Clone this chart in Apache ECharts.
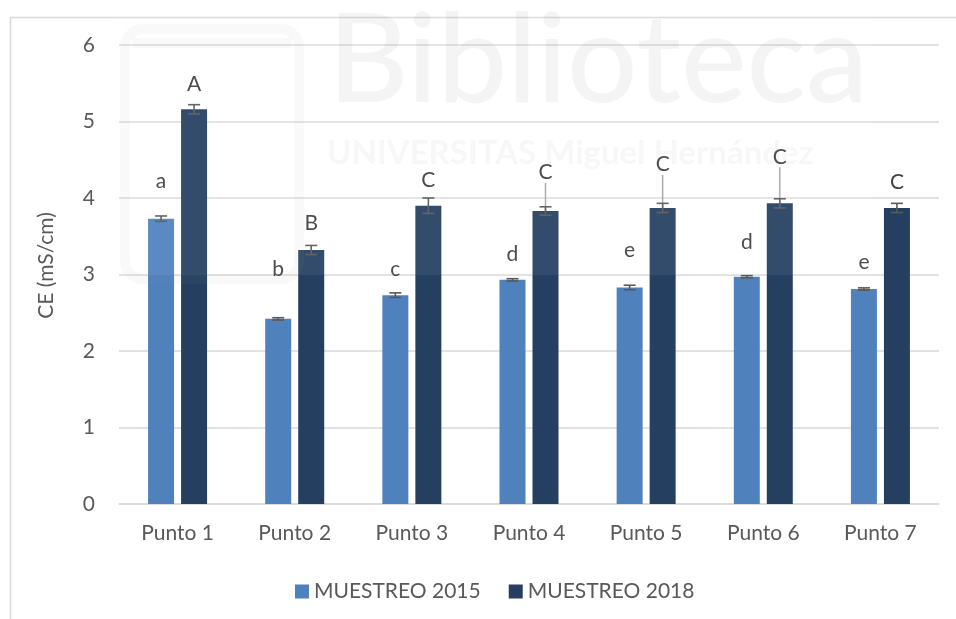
<!DOCTYPE html>
<html>
<head>
<meta charset="utf-8">
<script src="https://cdn.jsdelivr.net/npm/echarts@6/dist/echarts.min.js"></script>
<style>
  html, body { margin: 0; padding: 0; background: #fff; }
  #chart { width: 956px; height: 619px; }
</style>
</head>
<body>
<div id="chart"></div>
<script>
const categories = ['Punto 1', 'Punto 2', 'Punto 3', 'Punto 4', 'Punto 5', 'Punto 6', 'Punto 7']
const values2015 = [3.73, 2.42, 2.73, 2.93, 2.83, 2.97, 2.81]
const values2018 = [5.16, 3.32, 3.90, 3.83, 3.87, 3.93, 3.87]
const err2015 = [0.035, 0.015, 0.03, 0.015, 0.03, 0.015, 0.015]
const err2018 = [0.06, 0.06, 0.1, 0.055, 0.06, 0.06, 0.06]
const letters2015 = ['a', 'b', 'c', 'd', 'e', 'd', 'e']
const letters2018 = ['A', 'B', 'C', 'C', 'C', 'C', 'C']
const yTicks = [0, 1, 2, 3, 4, 5, 6]

// extra lift of the letter labels (px), like the moved labels in the original
const lift2015 = [12, 24, 0, 0, 12, 9, 1]
const lift2018 = [0, 1, 0, 13, 18, 21, 0]

const BAR_W = 26
const GAP = 7
const FONT = 'Lato, "Open Sans", sans-serif'

const myChart = echarts.init(document.getElementById('chart'))

const errorSeries = (vals, errs, shift) => ({
  type: 'custom',
  data: vals.map((v, i) => [i, v, errs[i]]),
  z: 5,
  silent: true,
  renderItem: (params, api) => {
    const i = api.value(0)
    const v = api.value(1)
    const e = api.value(2)
    const hi = api.coord([i, v + e])
    const lo = api.coord([i, v - e])
    const x = hi[0] + shift
    const style = { stroke: '#595959', lineWidth: 1.6 }
    return {
      type: 'group',
      children: [
        { type: 'line', shape: { x1: x, y1: hi[1], x2: x, y2: lo[1] }, style },
        { type: 'line', shape: { x1: x - 6, y1: hi[1], x2: x + 6, y2: hi[1] }, style },
        { type: 'line', shape: { x1: x - 6, y1: lo[1], x2: x + 6, y2: lo[1] }, style },
      ],
    }
  },
})

const barLabel = (letters) => ({
  show: true,
  position: 'top',
  distance: 15,
  color: '#404040',
  fontSize: 21,
  fontFamily: FONT,
  formatter: (p) => letters[p.dataIndex],
})

const option = {
  backgroundColor: '#fff',
  animation: false,
  grid: { left: 119, right: 17, top: 45, bottom: 115 },
  legend: {
    top: 576,
    left: 290,
    itemWidth: 14,
    itemHeight: 14,
    itemGap: 28,
    icon: 'rect',
    textStyle: { color: '#595959', fontSize: 21, fontFamily: FONT },
    data: ['MUESTREO 2015', 'MUESTREO 2018'],
  },
  xAxis: {
    type: 'category',
    data: categories,
    axisLine: { lineStyle: { color: '#d9d9d9', width: 1.5 } },
    axisTick: { show: false },
    axisLabel: { color: '#595959', fontSize: 21, fontFamily: FONT, margin: 19 },
  },
  yAxis: {
    type: 'value',
    min: yTicks[0],
    max: yTicks[yTicks.length - 1],
    interval: 1,
    name: 'CE (mS/cm)',
    nameLocation: 'middle',
    nameGap: 62,
    nameTextStyle: { color: '#595959', fontSize: 21, fontFamily: FONT, padding: [0, 0, 0, 18] },
    axisLine: { show: false },
    axisTick: { show: false },
    axisLabel: { color: '#595959', fontSize: 21, fontFamily: FONT, margin: 24 },
    splitLine: { lineStyle: { color: '#d9d9d9', width: 1.5 } },
  },
  series: [
    {
      name: 'MUESTREO 2015',
      type: 'bar',
      data: values2015,
      barWidth: BAR_W,
      barGap: (GAP / BAR_W * 100) + '%',
      itemStyle: { color: '#4f81bd' },
      label: barLabel(letters2015),
      labelLayout: (p) => ({ dy: -lift2015[p.dataIndex] }),
    },
    {
      name: 'MUESTREO 2018',
      type: 'bar',
      data: values2018.map((v, i) => ({
        value: v,
        labelLine: { show: lift2018[i] > 5 },
      })),
      barWidth: BAR_W,
      itemStyle: { color: '#243f60' },
      label: barLabel(letters2018),
      labelLayout: (p) => ({ dy: -lift2018[p.dataIndex] }),
      labelLine: { lineStyle: { color: '#a6a6a6', width: 1.5 } },
    },
    errorSeries(values2015, err2015, -(BAR_W + GAP) / 2),
    errorSeries(values2018, err2018, (BAR_W + GAP) / 2),
  ],
  graphic: [
    // chart frame
    {
      type: 'rect', left: 8, top: 15, z: 0,
      shape: { width: 980, height: 640 },
      style: { fill: 'none', stroke: '#d9d9d9', lineWidth: 1.5 },
    },
    // library watermark (very faint)
    {
      type: 'rect', left: 112, top: 16, z: 100, silent: true,
      shape: { width: 760, height: 259 },
      style: { fill: 'rgba(255,255,255,0.07)' },
    },
    {
      type: 'rect', left: 120, top: 24, z: 100, silent: true,
      shape: { width: 174, height: 250, r: 18 },
      style: { fill: 'none', stroke: 'rgba(150,150,150,0.06)', lineWidth: 10 },
    },
    {
      type: 'rect', left: 132, top: 38, z: 100, silent: true,
      shape: { width: 160, height: 10 },
      style: { fill: 'rgba(150,150,150,0.06)' },
    },
    {
      type: 'text', left: 328, top: 0, z: 100, silent: true,
      style: { text: 'Biblioteca', font: '500 124px Lato, sans-serif', fill: 'rgba(120,120,120,0.08)' },
    },
    {
      type: 'text', left: 327, top: 137, z: 100, silent: true,
      style: { text: 'UNIVERSITAS Miguel Hernández', font: 'bold 33px Lato, sans-serif', fill: 'rgba(120,120,120,0.06)' },
    },
  ],
}

myChart.setOption(option)
</script>
</body>
</html>
